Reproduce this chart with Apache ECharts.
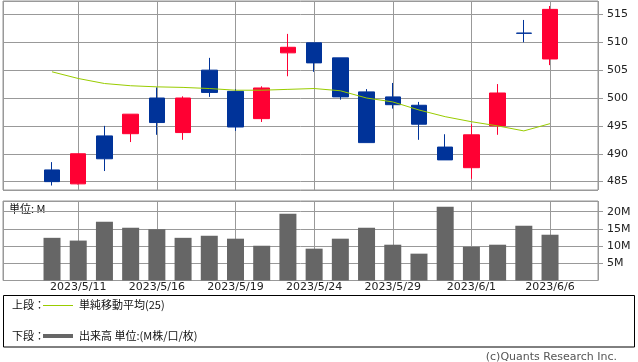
<!DOCTYPE html>
<html><head><meta charset="utf-8">
<script src="https://cdn.jsdelivr.net/npm/echarts@6/dist/echarts.min.js"></script>
<style>html,body{margin:0;padding:0;background:#fff}#c{width:638px;height:362px}</style>
</head><body><div id="c"></div>
<script>
const dates = ['2023/5/10','2023/5/11','2023/5/12','2023/5/15','2023/5/16','2023/5/17','2023/5/18','2023/5/19','2023/5/22','2023/5/23',
  '2023/5/24','2023/5/25','2023/5/26','2023/5/29','2023/5/30','2023/5/31','2023/6/1','2023/6/2','2023/6/5','2023/6/6'];
const open  = [487.1,484.6,493.2,493.6,500.0,493.8,505.0,501.2,496.3,508.1,509.9,507.2,501.1,500.2,498.7,491.2,487.5,495.0,511.65,507.0];
const close = [485.0,490.0,489.1,497.1,495.6,500.0,501.0,494.8,501.8,509.1,506.3,500.2,492.0,498.8,495.3,488.9,493.4,500.9,511.6,515.9];
const low   = [484.3,484.5,486.9,492.1,493.4,492.5,500.2,494.1,495.7,503.9,504.7,499.7,492.0,498.1,492.5,488.9,485.5,493.4,510.0,505.9];
const high  = [488.5,490.0,495.0,497.1,501.9,500.3,507.2,501.6,502.1,511.5,509.9,507.2,501.6,502.7,499.3,493.5,495.3,502.5,514.0,516.5];
const ma25  = [504.7,503.5,502.6,502.2,502.0,501.9,501.7,501.4,501.4,501.55,501.7,501.3,500.0,499.3,497.85,496.65,495.75,495.0,494.1,495.4];
const volume = [12.4,11.6,17.1,15.35,14.9,12.4,13.0,12.15,10.1,19.4,9.25,12.15,15.35,10.4,7.8,21.45,9.8,10.4,15.9,13.3];

const OFFSET = 2; // x position of first trading day on the shared value axis
const xs = dates.map((d, i) => i + OFFSET);
const candleData = xs.map((x, i) => [x, open[i], close[i], low[i], high[i]]);
const maData = xs.map((x, i) => [x, ma25[i]]);
const volData = xs.map((x, i) => [x, volume[i]]);

const GRID_LINE = '#999999';
const font = '"DejaVu Sans", sans-serif';
const cjk = '"Noto Sans CJK JP", sans-serif';

const xCommon = {
  type: 'value', min: 0.13, max: 22.83, minInterval: 3, maxInterval: 3,
  axisLine: {show: false}, axisTick: {show: false},
  splitLine: {show: true, lineStyle: {color: GRID_LINE, width: 1}}
};

const chart = echarts.init(document.getElementById('c'), null, {renderer: 'canvas'});
chart.setOption({
  animation: false,
  backgroundColor: '#fff',
  grid: [
    {left: 3, width: 595, top: 1, height: 189, show: true, borderColor: GRID_LINE, borderWidth: 1},
    {left: 3, width: 595, top: 201, height: 79.5, show: true, borderColor: GRID_LINE, borderWidth: 1}
  ],
  xAxis: [
    Object.assign({gridIndex: 0, axisLabel: {show: false}}, xCommon),
    Object.assign({gridIndex: 1, axisLabel: {
      show: true, showMinLabel: false, showMaxLabel: false, color: '#222', fontSize: 11, fontFamily: font, margin: 1,
      formatter: v => { const i = Math.round(v - OFFSET); return Math.abs(v - OFFSET - i) < 1e-6 && dates[i] ? dates[i] : ''; }
    }}, xCommon)
  ],
  yAxis: [
    {gridIndex: 0, type: 'value', position: 'right', min: 483.5, max: 517.4, minInterval: 5, maxInterval: 5, scale: true,
     axisLine: {show: false}, axisTick: {show: true, length: 5, lineStyle: {color: GRID_LINE}},
     splitLine: {show: true, lineStyle: {color: GRID_LINE, width: 1}},
     axisLabel: {showMinLabel: false, showMaxLabel: false, color: '#222', fontSize: 11, fontFamily: font, margin: 9}},
    {gridIndex: 1, type: 'value', position: 'right', min: 0, max: 23.1, minInterval: 5, maxInterval: 5,
     axisLine: {show: false}, axisTick: {show: true, length: 5, lineStyle: {color: GRID_LINE}},
     splitLine: {show: true, lineStyle: {color: GRID_LINE, width: 1}},
     axisLabel: {showMinLabel: false, showMaxLabel: false, color: '#222', fontSize: 11, fontFamily: font, margin: 9,
       formatter: v => v + 'M'}}
  ],
  series: [
    {type: 'candlestick', xAxisIndex: 0, yAxisIndex: 0, data: candleData, encode: {x: 0, y: [1, 2, 3, 4]},
     barWidth: 16,
     itemStyle: {color: '#ff0033', color0: '#003399', borderColor: '#ff0033', borderColor0: '#003399', borderWidth: 1}},
    {type: 'line', xAxisIndex: 0, yAxisIndex: 0, data: maData, showSymbol: false, symbol: 'none',
     lineStyle: {color: '#99cc00', width: 1}, z: 5},
    {type: 'bar', xAxisIndex: 1, yAxisIndex: 1, data: volData, barWidth: 17, itemStyle: {color: '#666666'}}
  ],
  graphic: [
    {type: 'text', left: 9, top: 203, style: {text: '単位: M', font: '11px ' + cjk, fill: '#111'}},
    {type: 'rect', shape: {x: 3.5, y: 295.5, width: 631, height: 51.5}, style: {fill: 'none', stroke: '#000', lineWidth: 1}},
    {type: 'text', x: 12, y: 305, style: {text: '上段：', font: '11px ' + cjk, fill: '#111', verticalAlign: 'middle'}},
    {type: 'line', shape: {x1: 43, y1: 305.5, x2: 73, y2: 305.5}, style: {stroke: '#99cc00', lineWidth: 1}},
    {type: 'text', x: 79, y: 305, style: {text: '単純移動平均(25)', font: '11px ' + cjk, fill: '#111', verticalAlign: 'middle'}},
    {type: 'text', x: 12, y: 336, style: {text: '下段：', font: '11px ' + cjk, fill: '#111', verticalAlign: 'middle'}},
    {type: 'line', shape: {x1: 43, y1: 336, x2: 73, y2: 336}, style: {stroke: '#666666', lineWidth: 4}},
    {type: 'text', x: 79, y: 336, style: {text: '出来高 単位:(M株/口/枚)', font: '11px ' + cjk, fill: '#111', verticalAlign: 'middle'}},
    {type: 'text', x: 617, y: 357, style: {text: '(c)Quants Research Inc.', font: '11px ' + font, fill: '#555', align: 'right', verticalAlign: 'middle'}}
  ]
});
</script></body></html>
